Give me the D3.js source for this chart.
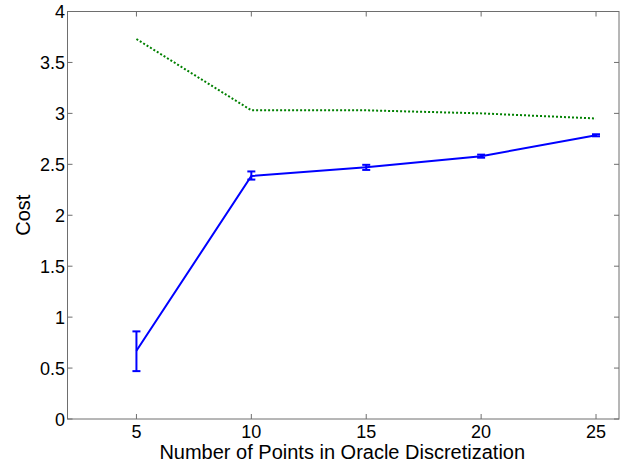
<!DOCTYPE html>
<html>
<head>
<meta charset="utf-8">
<script src="https://cdn.jsdelivr.net/npm/d3@7"></script>
<style>
  body { margin: 0; background: #fff; }
  text { font-family: "Liberation Sans", Arial, sans-serif; }
</style>
</head>
<body>
<svg id="chart"></svg>
<script>
let width = 635;
let height = 466;

// data
let points = [5, 10, 15, 20, 25];
let learnedCost = [0.67, 2.385, 2.47, 2.58, 2.785];
let learnedLow = [0.47, 2.35, 2.445, 2.565, 2.775];
let learnedHigh = [0.86, 2.43, 2.495, 2.595, 2.795];
let oracleCost = [3.73, 3.03, 3.03, 3.00, 2.95];
let xTicks = [5, 10, 15, 20, 25];
let yTicks = [0, 0.5, 1, 1.5, 2, 2.5, 3, 3.5, 4];

let margin = {left: 67.5, right: 16, top: 11.5, bottom: 47};

let svg = d3.select('#chart')
  .attr('width', width)
  .attr('height', height);

let xax = d3.scaleLinear()
  .domain([2, 26])
  .range([margin.left, width - margin.right]);

let yax = d3.scaleLinear()
  .domain([0, 4])
  .range([height - margin.bottom, margin.top]);

let axisColor = '#6e6e6e';
let tickLen = 5;

// box
svg.append('rect')
  .attr('x', xax(2))
  .attr('y', yax(4))
  .attr('width', xax(26) - xax(2))
  .attr('height', yax(0) - yax(4))
  .attr('fill', 'none')
  .attr('stroke', axisColor)
  .attr('stroke-width', 1);

// ticks, pointing inward on all four sides
let tickGroup = svg.append('g')
  .attr('stroke', axisColor)
  .attr('stroke-width', 1);

xTicks.forEach(t => {
  tickGroup.append('line')
    .attr('x1', xax(t)).attr('x2', xax(t))
    .attr('y1', yax(0)).attr('y2', yax(0) - tickLen);
  tickGroup.append('line')
    .attr('x1', xax(t)).attr('x2', xax(t))
    .attr('y1', yax(4)).attr('y2', yax(4) + tickLen);
});
yTicks.forEach(t => {
  tickGroup.append('line')
    .attr('x1', xax(2)).attr('x2', xax(2) + tickLen)
    .attr('y1', yax(t)).attr('y2', yax(t));
  tickGroup.append('line')
    .attr('x1', xax(26)).attr('x2', xax(26) - tickLen)
    .attr('y1', yax(t)).attr('y2', yax(t));
});

// tick labels
svg.append('g')
  .selectAll('text')
  .data(xTicks)
  .join('text')
    .attr('x', d => xax(d))
    .attr('y', yax(0) + 18.5)
    .attr('text-anchor', 'middle')
    .attr('font-size', 18)
    .text(d => d);

svg.append('g')
  .selectAll('text')
  .data(yTicks)
  .join('text')
    .attr('x', xax(2) - 2.5)
    .attr('y', d => yax(d) + 6.5)
    .attr('text-anchor', 'end')
    .attr('font-size', 18)
    .text(d => d);

// axis labels
svg.append('text')
  .attr('x', (xax(2) + xax(26)) / 2 - 1)
  .attr('y', 459)
  .attr('text-anchor', 'middle')
  .attr('font-size', 20)
  .text('Number of Points in Oracle Discretization');

svg.append('text')
  .attr('transform', `translate(30, ${(yax(0) + yax(4)) / 2}) rotate(-90)`)
  .attr('text-anchor', 'middle')
  .attr('font-size', 20)
  .text('Cost');

// oracle line (green dotted)
let line = d3.line()
  .x(d => xax(d[0]))
  .y(d => yax(d[1]));

svg.append('path')
  .attr('d', line(points.map((p, i) => [p, oracleCost[i]])))
  .attr('fill', 'none')
  .attr('stroke', '#008000')
  .attr('stroke-width', 2)
  .attr('stroke-dasharray', '2,2');

// learned line (blue with error bars)
svg.append('path')
  .attr('d', line(points.map((p, i) => [p, learnedCost[i]])))
  .attr('fill', 'none')
  .attr('stroke', '#0000ff')
  .attr('stroke-width', 2);

let capHalf = 4;
let errGroup = svg.append('g')
  .attr('stroke', '#0000ff')
  .attr('stroke-width', 2);

points.forEach((p, i) => {
  let x = xax(p);
  errGroup.append('line')
    .attr('x1', x).attr('x2', x)
    .attr('y1', yax(learnedLow[i])).attr('y2', yax(learnedHigh[i]));
  errGroup.append('line')
    .attr('x1', x - capHalf).attr('x2', x + capHalf)
    .attr('y1', yax(learnedLow[i])).attr('y2', yax(learnedLow[i]));
  errGroup.append('line')
    .attr('x1', x - capHalf).attr('x2', x + capHalf)
    .attr('y1', yax(learnedHigh[i])).attr('y2', yax(learnedHigh[i]));
});
</script>
</body>
</html>
